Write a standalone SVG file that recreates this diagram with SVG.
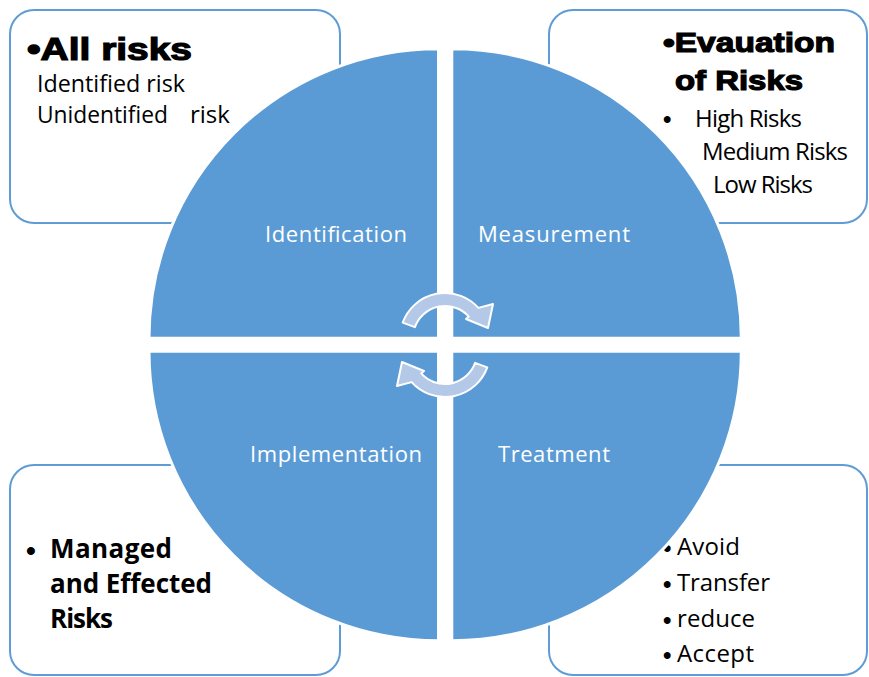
<svg xmlns="http://www.w3.org/2000/svg" width="869" height="677" viewBox="0 0 869 677">
  <defs>
    <style>
      .box { fill: #ffffff; stroke: #5f9cd6; stroke-width: 2; }
      .quad { fill: #5b9bd5; stroke: #ffffff; stroke-width: 3; }
      .qlabel { font-family: "Open Sans", "Noto Sans", sans-serif; font-size: 22px; fill: #ffffff; }
      .body { font-family: "Open Sans", "Noto Sans", sans-serif; font-size: 24px; fill: #000000; }
      .bodyB { font-family: "Open Sans", "Noto Sans", sans-serif; font-size: 26px; font-weight: 700; fill: #000000; }
      .bul { font-family: "Liberation Sans", Arial, sans-serif; font-weight: 700; fill: #000000; }
      .heavy { font-family: "Liberation Sans", Arial, sans-serif; font-weight: 900; fill: #000000; stroke: #000000; stroke-width: 1.2; }
      .cyc { fill: #b4c8e8; stroke: #ffffff; stroke-width: 2; stroke-linejoin: round; }
    </style>
    <!-- curved arrow, drawn once and reused rotated -->
    <path id="curl" d="M402.7,322.6 A45,45 0 0 1 478.4,307.9 L493,304 L488,328 L466,319 L468.8,316.6 A32,32 0 0 0 414.9,327.1 Z"/>
  </defs>

  <rect width="869" height="677" fill="#ffffff"/>

  <!-- corner boxes -->
  <g id="box-all-risks">
    <rect class="box" x="10" y="10" width="330" height="213" rx="24" ry="24"/>
    <text class="heavy" x="27" y="60" font-size="31" textLength="165" lengthAdjust="spacingAndGlyphs">•All risks</text>
    <text class="body" x="37" y="92" font-size="20.5" textLength="148" lengthAdjust="spacingAndGlyphs">Identified risk</text>
    <text class="body" x="37" y="123" font-size="20.5"><tspan textLength="131" lengthAdjust="spacingAndGlyphs">Unidentified</tspan><tspan x="190">risk</tspan></text>
  </g>

  <g id="box-evaluation">
    <rect class="box" x="549" y="10" width="318" height="213" rx="24" ry="24"/>
    <text class="heavy" x="663" y="52" font-size="28" textLength="172" lengthAdjust="spacingAndGlyphs">•Evauation</text>
    <text class="heavy" x="675" y="90" font-size="28" textLength="128" lengthAdjust="spacingAndGlyphs">of Risks</text>
    <text class="bul" x="663" y="127" font-size="24">•</text>
    <text class="body" x="695" y="127" font-size="22" textLength="107">High Risks</text>
    <text class="body" x="702" y="160" font-size="22" textLength="146">Medium Risks</text>
    <text class="body" x="713" y="193" font-size="22" textLength="100">Low Risks</text>
  </g>

  <g id="box-managed">
    <rect class="box" x="10" y="465" width="330" height="210" rx="24" ry="24"/>
    <text class="bul" x="26" y="560" font-size="28">•</text>
    <text class="bodyB" x="50" y="558" textLength="122">Managed</text>
    <text class="bodyB" x="50" y="593" textLength="162">and Effected</text>
    <text class="bodyB" x="50" y="628" textLength="63">Risks</text>
  </g>

  <g id="box-treatment">
    <rect class="box" x="549" y="465" width="318" height="210" rx="24" ry="24"/>
    <text class="bul" x="663" y="556" font-size="24">•</text>
    <text class="body" x="677" y="555" textLength="63">Avoid</text>
    <text class="bul" x="663" y="592" font-size="24">•</text>
    <text class="body" x="677" y="591" textLength="93">Transfer</text>
    <text class="bul" x="663" y="628" font-size="24">•</text>
    <text class="body" x="677" y="627" textLength="78">reduce</text>
    <text class="bul" x="663" y="663" font-size="24">•</text>
    <text class="body" x="677" y="662" textLength="77">Accept</text>
  </g>

  <!-- four quarter segments of the cycle -->
  <g id="q-identification">
    <path class="quad" d="M438.5,338.2 L149,338.2 A289.5,289.5 0 0 1 438.5,48.7 Z"/>
    <text class="qlabel" x="265" y="242" textLength="142">Identification</text>
  </g>
  <g id="q-measurement">
    <path class="quad" d="M451.8,338.2 L451.8,48.7 A289.5,289.5 0 0 1 741.3,338.2 Z"/>
    <text class="qlabel" x="478" y="242" textLength="152">Measurement</text>
  </g>
  <g id="q-implementation">
    <path class="quad" d="M438.5,351.2 L438.5,640.7 A289.5,289.5 0 0 1 149,351.2 Z"/>
    <text class="qlabel" x="250" y="462" textLength="172">Implementation</text>
  </g>
  <g id="q-treatment">
    <path class="quad" d="M451.8,351.2 L741.3,351.2 A289.5,289.5 0 0 1 451.8,640.7 Z"/>
    <text class="qlabel" x="498" y="462" textLength="112">Treatment</text>
  </g>

  <!-- connectors: the two circular arrows in the centre -->
  <g id="connectors">
    <use href="#curl" class="cyc"/>
    <use href="#curl" class="cyc" transform="rotate(180 445 345)"/>
  </g>
</svg>
